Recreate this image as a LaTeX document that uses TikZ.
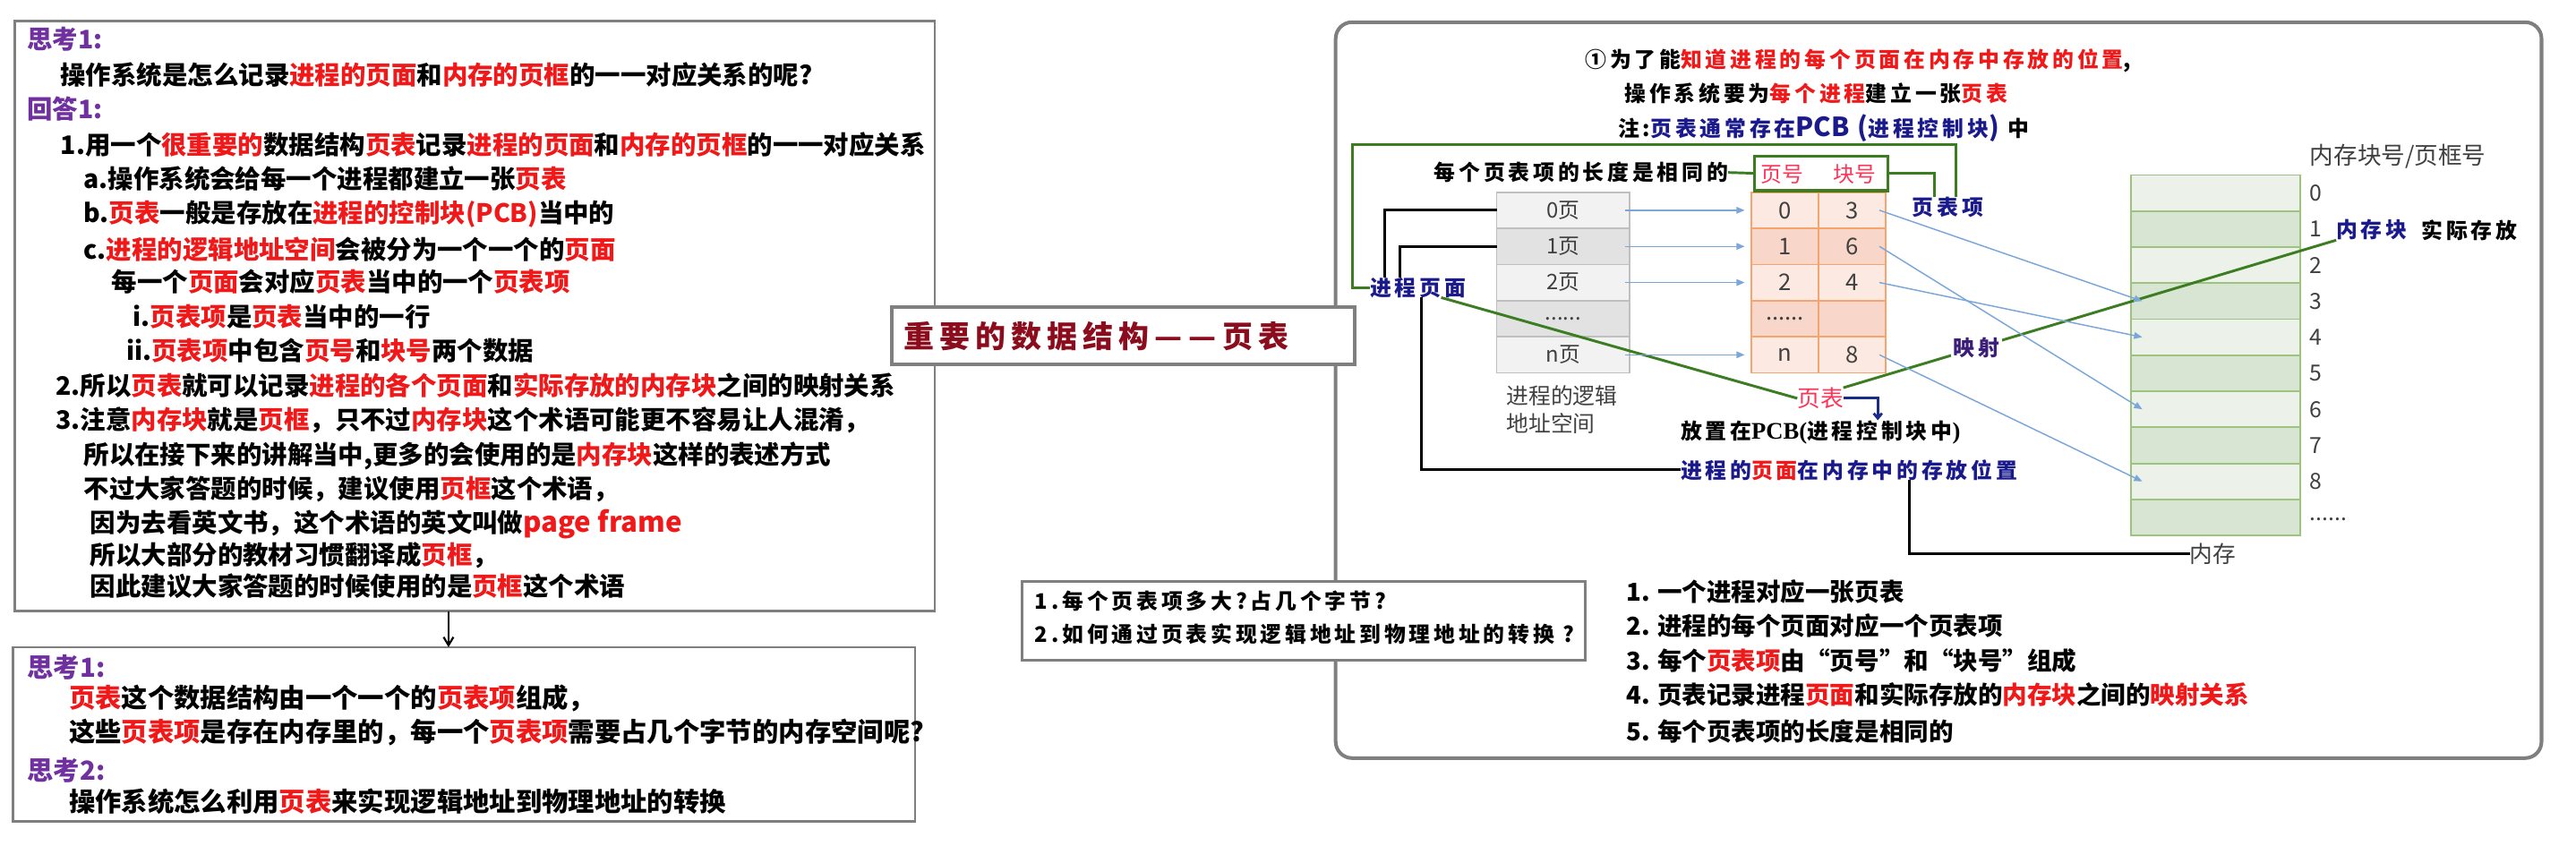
\documentclass[tikz,border=0pt]{standalone}
\usepackage{fontspec}
\setmainfont{Noto Sans CJK SC}
\newfontfamily\spfont{Noto Sans CJK SC}[LetterSpace=16]
\newfontfamily\ttlfont{Noto Sans CJK SC}[LetterSpace=18]
\newfontfamily\pcbfont{Liberation Serif}
\usetikzlibrary{arrows.meta}
\definecolor{kgray}{HTML}{7F7F7F}
\definecolor{kred}{HTML}{F01818}
\definecolor{kpurple}{HTML}{7030A0}
\definecolor{kblue}{HTML}{1A1A8C}
\definecolor{kdred}{HTML}{8B0C1C}
\definecolor{kgreen}{HTML}{3C7D22}
\definecolor{kplum}{HTML}{3B1E78}
\definecolor{kpink}{HTML}{FF3355}
\definecolor{ktxt}{HTML}{404040}
\definecolor{kgcell}{HTML}{BFBFBF}
\definecolor{kgL}{HTML}{F2F2F2}
\definecolor{kgD}{HTML}{E2E2E2}
\definecolor{kor}{HTML}{F4A46C}
\definecolor{koL}{HTML}{FCEAE2}
\definecolor{koD}{HTML}{F8D6C9}
\definecolor{kmg}{HTML}{9CC47E}
\definecolor{kmL}{HTML}{ECF2E9}
\definecolor{kmD}{HTML}{D8E5D2}
\definecolor{klb}{HTML}{7BA7D8}
\definecolor{kbk}{HTML}{1A2A8A}
\newcommand\kr[1]{\textcolor{kred}{#1}}
\newcommand\kb[1]{\textcolor{kblue}{#1}}
\newcommand\kp[1]{\textcolor{kpurple}{#1}}
\tikzset{
  every node/.style={inner sep=0pt, outer sep=0pt},
  gbox/.style={draw=kgray, line width=1.5pt, fill=white, anchor=north west},
  lt/.style={anchor=west, font=\fontsize{15.5}{15.5}\selectfont\bfseries},
  lt2/.style={anchor=west, font=\fontsize{16}{16}\selectfont\bfseries},
  st/.style={anchor=west, font=\spfont\fontsize{13}{13}\selectfont\bfseries},
  lst/.style={anchor=west, font=\fontsize{15}{15}\selectfont\bfseries},
  gl/.style={anchor=west, font=\fontsize{13.5}{13.5}\selectfont, text=ktxt},
  gcell/.style={draw=kgcell, line width=1pt, minimum width=81, minimum height=22, anchor=north west, font=\fontsize{13}{13}\selectfont, text=ktxt},
  ocell/.style={draw=kor, line width=1pt, minimum width=41, minimum height=22, anchor=north west, font=\fontsize{14}{14}\selectfont, text=ktxt},
  mcell/.style={draw=kmg, line width=1pt, minimum width=103, minimum height=21.95, anchor=north west},
  gline/.style={draw=kgreen, line width=1.6pt},
  bline/.style={draw=black, line width=1.6pt},
  larrow/.style={draw=klb, line width=0.8pt, -{Triangle[length=5pt,width=4pt]}},
}
\begin{document}
\begin{tikzpicture}[x=1pt, y=-1pt]
\useasboundingbox (0,0) rectangle (1568,515);

% ---------- left boxes ----------
\node[gbox, minimum width=560, minimum height=359] (lbox) at (9,13) {};
\node[lt] (l1) at (16.6,23.6) {\kp{思考1:}};
\node[lt] (l2) at (36.8,45.4) {操作系统是怎么记录\kr{进程的页面}和\kr{内存的页框}的一一对应关系的呢?};
\node[lt] (l3) at (16.6,66.3) {\kp{回答1:}};
\node[lt] (l4) at (37,88) {1.用一个\kr{很重要的}数据结构\kr{页表}记录\kr{进程的页面}和\kr{内存的页框}的一一对应关系};
\node[lt] (l5) at (51,109) {a.操作系统会给每一个进程都建立一张\kr{页表}};
\node[lt] (l6) at (51,130.5) {b.\kr{页表}一般是存放在\kr{进程的控制块(PCB)}当中的};
\node[lt] (l7) at (51,152) {c.\kr{进程的逻辑地址空间}会被分为一个一个的\kr{页面}};
\node[lt] (l8) at (68,171.5) {每一个\kr{页面}会对应\kr{页表}当中的一个\kr{页表项}};
\node[lt] (l9) at (81,192.6) {i.\kr{页表项}是\kr{页表}当中的一行};
\node[lt] (l10) at (77,213.4) {ii.\kr{页表项}中包含\kr{页号}和\kr{块号}两个数据};
\node[lt] (l11) at (34,234.8) {2.所以\kr{页表}就可以记录\kr{进程的各个页面}和\kr{实际存放的内存块}之间的映射关系};
\node[lt] (l12) at (34,256) {3.注意\kr{内存块}就是\kr{页框}，只不过\kr{内存块}这个术语可能更不容易让人混淆，};
\node[lt] (l13) at (51,277.5) {所以在接下来的讲解当中,更多的会使用的是\kr{内存块}这样的表述方式};
\node[lt] (l14) at (51,297.8) {不过大家答题的时候，建议使用\kr{页框}这个术语，};
\node[lt] (l15) at (55,319) {因为去看英文书，这个术语的英文叫做{\fontsize{17}{17}\selectfont\kr{page frame}}};
\node[lt] (l16) at (55,338) {所以大部分的教材习惯翻译成\kr{页框}，};
\node[lt] (l17) at (55,357) {因此建议大家答题的时候使用的是\kr{页框}这个术语};

\node[gbox, minimum width=549, minimum height=106] (lbox2) at (8,394) {};
\coordinate (ax) at (273,0);
\draw[line width=1.2pt, -{Straight Barb[length=5pt,width=6pt]}] (lbox.south -| ax) -- (lbox2.north -| ax);
\node[lt2] (q1) at (16.6,406) {\kp{思考1:}};
\node[lt2] (q2) at (42,425) {\kr{页表}这个数据结构由一个一个的\kr{页表项}组成，};
\node[lt2] (q3) at (42,446) {这些\kr{页表项}是存在内存里的，每一个\kr{页表项}需要占几个字节的内存空间呢?};
\node[lt2] (q4) at (16.6,469) {\kp{思考2:}};
\node[lt2] (q5) at (42,488) {操作系统怎么利用\kr{页表}来实现逻辑地址到物理地址的转换};

% ---------- right box ----------
\node[draw=kgray, line width=2.2pt, rounded corners=10pt, anchor=north west, minimum width=734, minimum height=448] (rbox) at (813,13.5) {};

\node[st] (t1) at (965,37) {①\hspace{2pt}为了能\kr{知道进程的每个页面在内存中存放的位置},};
\node[st] (t2) at (989,57) {操作系统要为\kr{每个进程}建立一张\kr{页表}};
\node[st] (t3) at (985,78) {注:\kb{页表通常存在{\rmfamily\bfseries\fontsize{16}{16}\selectfont PCB}\hspace{5pt}{\rmfamily\bfseries\fontsize{16}{16}\selectfont(}进程控制块{\rmfamily\bfseries\fontsize{16}{16}\selectfont)}}\hspace{5pt}中};

% logical address space (gray)
\node[gcell, fill=kgL] (g0) at (911,117) {0页};
\node[gcell, fill=kgD] (g1) at (911,139) {1页};
\node[gcell, fill=kgL] (g2) at (911,161) {2页};
\node[gcell, fill=kgD] (g3) at (911,183) {......};
\node[gcell, fill=kgL] (g4) at (911,205) {n页};
\node[gl] (las1) at (917,241) {进程的逻辑};
\node[gl] (las2) at (917,258) {地址空间};

% page table (orange)
\node[ocell, fill=koL] (p0) at (1066,117) {0};
\node[ocell, fill=koL] (f0) at (1107,117) {3};
\node[ocell, fill=koD] (p1) at (1066,139) {1};
\node[ocell, fill=koD] (f1) at (1107,139) {6};
\node[ocell, fill=koL] (p2) at (1066,161) {2};
\node[ocell, fill=koL] (f2) at (1107,161) {4};
\node[ocell, fill=koD] (p3) at (1066,183) {......};
\node[ocell, fill=koD] (f3) at (1107,183) {};
\node[ocell, fill=koL] (p4) at (1066,205) {n};
\node[ocell, fill=koL] (f4) at (1107,205) {8};

% header box
\node[draw=kgreen, line width=1.8pt, minimum width=81, minimum height=21] (hdr) at (1108.5,105.5) {};
\node[anchor=center, font=\fontsize{13}{13}\selectfont, text=kpink] (hy) at (1085,106) {页号};
\node[anchor=center, font=\fontsize{13}{13}\selectfont, text=kpink] (hk) at (1129,106) {块号};
\node[st] (t4) at (873,105) {每个页表项的长度是相同的};
\node[st, text=kblue] (pti) at (1164,126) {页表项};

% memory
\foreach \i/\c in {0/kmL,1/kmD,2/kmL,3/kmD,4/kmL,5/kmD,6/kmL,7/kmD,8/kmL,9/kmD}{
  \node[mcell, fill=\c] (m\i) at (1297,{106.5+21.95*\i}) {};
}
\foreach \i in {0,...,8}{
  \node[gl] (mn\i) at (1406,{106.5+21.95*\i+11}) {\i};
}
\node[gl] (mn9) at (1406,316) {......};
\node[gl, font=\fontsize{14.5}{14.5}\selectfont] (mhd) at (1406,95) {内存块号/页框号};
\node[st, text=kblue] (nck) at (1422,140) {内存块};
\node[st] (sjcf) at (1474,140) {实际存放};
\node[gl, font=\fontsize{14}{14}\selectfont] (nc) at (1333,337) {内存};

% labels
\node[st, text=kblue] (jcym) at (834,175) {进程页面};
\node[anchor=west, font=\fontsize{14}{14}\selectfont, text=kpink] (bt) at (1094,242.5) {页表};
\node[st] (pcb) at (1023,263) {放置在{\pcbfont\fontsize{14.5}{14.5}\selectfont PCB(}进程控制块中{\pcbfont\fontsize{14.5}{14.5}\selectfont)}};
\node[st, text=kblue] (jcwz) at (1023,286) {进程的\kr{页面}在内存中的存放位置};

% green connectors
\coordinate (gtop) at (823,88);
\draw[gline] (t4.east) -- (hdr.west);
\draw[gline] (hdr.east) -| ([xshift=-8pt]pti.north);
\draw[gline] (jcym.west) -| (gtop) -| ([xshift=5pt]pti.north);
\draw[gline] ([xshift=-15pt]jcym.south east) -- (bt.west);
\draw[gline] (bt.north east) -- node[pos=0.27, fill=white, inner sep=1.5pt, font=\spfont\fontsize{13}{13}\selectfont\bfseries, text=kplum] (ys) {映射} (nck.south west);

% black connectors
\draw[bline] (g0.west) -| ([xshift=9pt]jcym.north west);
\draw[bline] (g1.west) -| ([xshift=18pt]jcym.north west);
\draw[bline] ([xshift=31pt]jcym.south west) |- (jcwz.west);
\draw[bline] ([xshift=139pt]jcwz.south west) |- (nc.west);

% blue bracket
\draw[draw=kbk, line width=1.6pt, -{Straight Barb[length=3pt,width=5pt]}] (bt.east) -| ([xshift=120pt]pcb.north west);

% light blue arrows
\draw[larrow] ([xshift=-3pt]g0.east) -- ([xshift=-4pt]p0.west);
\draw[larrow] ([xshift=-3pt]g1.east) -- ([xshift=-4pt]p1.west);
\draw[larrow] ([xshift=-3pt]g2.east) -- ([xshift=-4pt]p2.west);
\draw[larrow] ([xshift=-3pt]g4.east) -- ([xshift=-4pt]p4.west);
\draw[larrow] ([xshift=-4pt]f0.east) -- ([xshift=7pt]m3.west);
\draw[larrow] ([xshift=-4pt]f1.east) -- ([xshift=7pt]m6.west);
\draw[larrow] ([xshift=-4pt]f2.east) -- ([xshift=7pt]m4.west);
\draw[larrow] ([xshift=-4pt]f4.east) -- ([xshift=7pt]m8.west);

% bottom list
\node[lst] (b1) at (990,360) {1. 一个进程对应一张页表};
\node[lst] (b2) at (990,381) {2. 进程的每个页面对应一个页表项};
\node[lst] (b3) at (990,402) {3. 每个\kr{页表项}由“页号”和“块号”组成};
\node[lst] (b4) at (990,423) {4. 页表记录进程\kr{页面}和实际存放的\kr{内存块}之间的\kr{映射关系}};
\node[lst] (b5) at (990,445) {5. 每个页表项的长度是相同的};

% ---------- middle boxes ----------
\node[draw=kgray, line width=2.2pt, fill=white, anchor=north west, minimum width=282, minimum height=35] (ttl) at (542.6,187) {};
\node[anchor=west, font=\ttlfont\fontsize{18.5}{18.5}\selectfont\bfseries, text=kdred] (ttlt) at (550,204.5) {重要的数据结构—\hspace{4pt}—页表};

\node[gbox, minimum width=343, minimum height=48] (qbox) at (622,354) {};
\node[st] (qq1) at (630,366) {1.每个页表项多大?占几个字节?};
\node[st] (qq2) at (630,386) {2.如何通过页表实现逻辑地址到物理地址的转换 ?};
\end{tikzpicture}
\end{document}
